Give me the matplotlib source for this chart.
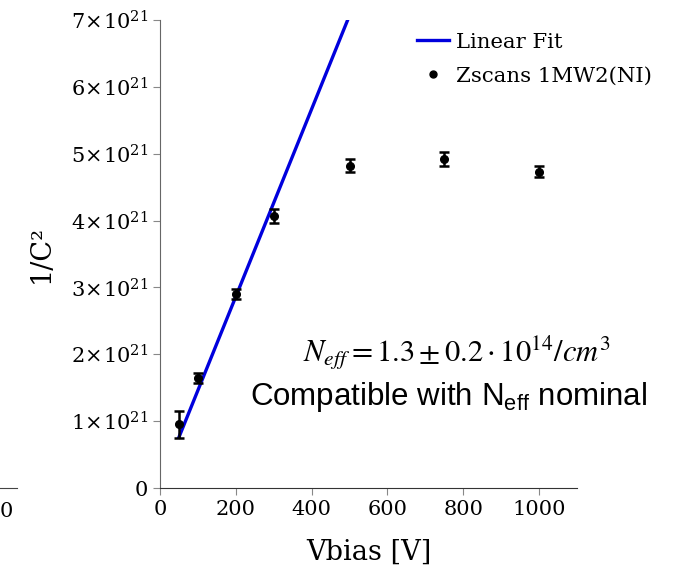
import numpy as np
import matplotlib
matplotlib.use("Agg")
import matplotlib.pyplot as plt
import matplotlib.ticker as ticker
from matplotlib.lines import Line2D

# data
vbias = [50, 100, 200, 300, 500, 750, 1000]
inv_c2 = [0.95e21, 1.65e21, 2.90e21, 4.07e21, 4.82e21, 4.92e21, 4.73e21]
inv_c2_err = [0.20e21, 0.075e21, 0.07e21, 0.10e21, 0.10e21, 0.11e21, 0.08e21]

fit_x = [50, 500]
fit_y = [0.76e21, 7.07e21]

plt.rcParams['font.family'] = 'DejaVu Serif'
plt.rcParams['mathtext.fontset'] = 'dejavuserif'

W, H = 677, 571
fig = plt.figure(figsize=(W / 100, H / 100), dpi=100)


def sci(v, pos):
    if v == 0:
        return '0'
    m = v / 1e21
    return r'$%d\!\times\!10^{21}$' % round(m)


# piece of the neighbouring panel cut off at the left edge
ax0 = fig.add_axes([-296 / W, 83 / H, 313 / W, 468 / H])
ax0.set_xlim(-1100, 40)
ax0.set_ylim(0, 7e21)
ax0.set_xticks([0])
ax0.set_yticks([])
for s in ['top', 'right', 'left']:
    ax0.spines[s].set_visible(False)
ax0.spines['bottom'].set_color('#444444')
ax0.tick_params(axis='x', length=0, labelsize=15, pad=10)

ax = fig.add_axes([160 / W, 83 / H, 417 / W, 468 / H])

ax.plot(fit_x, fit_y, color='#0000dd', lw=2.4, zorder=2)
ax.errorbar(vbias, inv_c2, yerr=inv_c2_err, fmt='o', color='black', ms=5.5,
            elinewidth=1.8, capsize=3.5, capthick=1.8, zorder=3)

ax.set_xlim(0, 1100)
ax.set_ylim(0, 7e21)
ax.set_xticks([0, 200, 400, 600, 800, 1000])
ax.set_yticks(np.arange(0, 8e21, 1e21))
ax.yaxis.set_major_formatter(ticker.FuncFormatter(sci))

for s in ['top', 'right']:
    ax.spines[s].set_visible(False)
ax.spines['left'].set_color('#666666')
ax.spines['bottom'].set_color('#333333')
ax.tick_params(direction='out', length=5, color='#888888', labelsize=15)

ax.set_xlabel('Vbias [V]', fontsize=19.5, labelpad=14)
ax.set_ylabel('1/C²', fontsize=19.5, labelpad=12)

handles = [Line2D([], [], color='#0000dd', lw=2.4),
           Line2D([], [], color='black', marker='o', ms=5, ls='none')]
ax.legend(handles, ['Linear Fit', 'Zscans 1MW2(NI)'], loc='upper left',
          bbox_to_anchor=(0.586, 1.0), frameon=False, fontsize=15.3,
          handlelength=1.5, handletextpad=0.35, labelspacing=0.7,
          borderaxespad=0.2)

ax.text(783, 2.03e21, r'$N_{eff}=1.3\pm0.2\cdot10^{14}/cm^3$',
        math_fontfamily='stix', fontsize=22, ha='center', va='center',
        color='black', clip_on=False)
ax.text(761, 1.36e21, r'Compatible with N$_\mathregular{eff}$ nominal',
        family='Liberation Sans', fontsize=22.5, ha='center', va='center',
        clip_on=False)

fig.savefig('out.png', dpi=100)
